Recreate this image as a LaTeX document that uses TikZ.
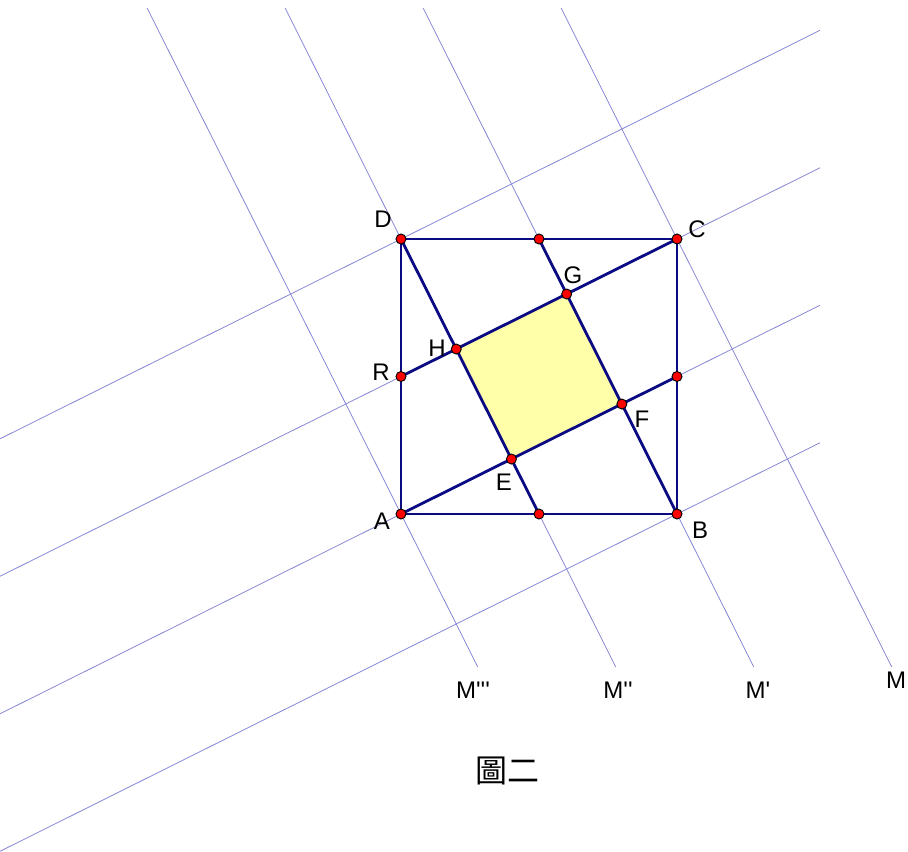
\documentclass[tikz,border=0pt]{standalone}
\usepackage{fontspec}
\setmainfont{Liberation Sans}[Ligatures=TeXOff]
\newfontfamily\cjk{Noto Sans CJK TC}
\usepackage{tikz}
\usetikzlibrary{calc}

\definecolor{gridblue}{RGB}{135,135,215}
\definecolor{navy}{RGB}{10,10,130}
\definecolor{paleyellow}{RGB}{255,255,170}

\begin{document}
\begin{tikzpicture}[
  x=0.75pt,y=-0.75pt,
  gridline/.style={gridblue,line width=0.6pt},
  edge/.style={navy,line width=2.1pt,line cap=round},
  dot/.style={circle,draw=black,fill=red,inner sep=0pt,minimum size=7.5pt,line width=0.7pt},
  lbl/.style={font=\fontsize{18}{21}\selectfont,inner sep=0pt},
]
  \useasboundingbox (0,0) rectangle (908,852);

  % square and side points
  \coordinate (A) at (401,514);
  \coordinate (B) at (677,514);
  \coordinate (C) at (677,239);
  \coordinate (D) at (401,239);
  \coordinate (P) at ($(D)!0.5!(C)$);
  \coordinate (Q) at ($(A)!0.5!(B)$);
  \coordinate (R) at ($(A)!0.5!(D)$);
  \coordinate (S) at ($(B)!0.5!(C)$);

  % inner square
  \coordinate (E) at (intersection of A--S and D--Q);
  \coordinate (F) at (intersection of A--S and P--B);
  \coordinate (G) at (intersection of R--C and P--B);
  \coordinate (H) at (intersection of R--C and D--Q);

  % thin grid lines, steep family
  \draw[gridline] (147.1,8) -- (477.8,667);
  \draw[gridline] ($(D)!-0.84!(Q)$) -- ($(D)!1.5564!(Q)$);
  \draw[gridline] ($(P)!-0.84!(B)$) -- ($(P)!1.5564!(B)$);
  \draw[gridline] (561.1,8) -- (891.8,667);

  % thin grid lines, flat family
  \draw[gridline] (0,438.8) -- (820,30.3);
  \draw[gridline] ($(R)!-1.4529!(C)$) -- ($(R)!1.5181!(C)$);
  \draw[gridline] ($(A)!-1.4529!(S)$) -- ($(A)!1.5181!(S)$);
  \draw[gridline] (0,851.3) -- (820,442.8);

  % inner square fill
  \fill[paleyellow] (E) -- (F) -- (G) -- (H) -- cycle;

  % thick segments
  \draw[edge] (A) -- (B) -- (C) -- (D) -- cycle;
  \draw[edge] (A) -- (S);
  \draw[edge] (R) -- (C);
  \draw[edge] (D) -- (Q);
  \draw[edge] (P) -- (B);

  % points
  \foreach \p in {A,B,C,D,P,Q,R,S,E,F,G,H}
    \node[dot] at (\p) {};

  % labels
  \node[lbl] (labD) at (383,219) {D};
  \node[lbl] (labC) at (697,229) {C};
  \node[lbl] (labG) at (573,275) {G};
  \node[lbl] (labH) at (437,348) {H};
  \node[lbl] (labR) at (381,372) {R};
  \node[lbl] (labF) at (642,419) {F};
  \node[lbl] (labE) at (504,482) {E};
  \node[lbl] (labA) at (382,521) {A};
  \node[lbl] (labB) at (700,530) {B};
  \node[lbl] (labM3) at (473,690) {M'''};
  \node[lbl] (labM2) at (618,690) {M''};
  \node[lbl] (labM1) at (758,690) {M'};
  \node[lbl] (labM) at (896,680) {M};
  \node[lbl,anchor=east] (labN) at (2,698) {N};
  \node[font=\cjk\fontsize{24}{28}\selectfont,inner sep=0pt] (caption) at (507,771) {圖二};
\end{tikzpicture}
\end{document}
